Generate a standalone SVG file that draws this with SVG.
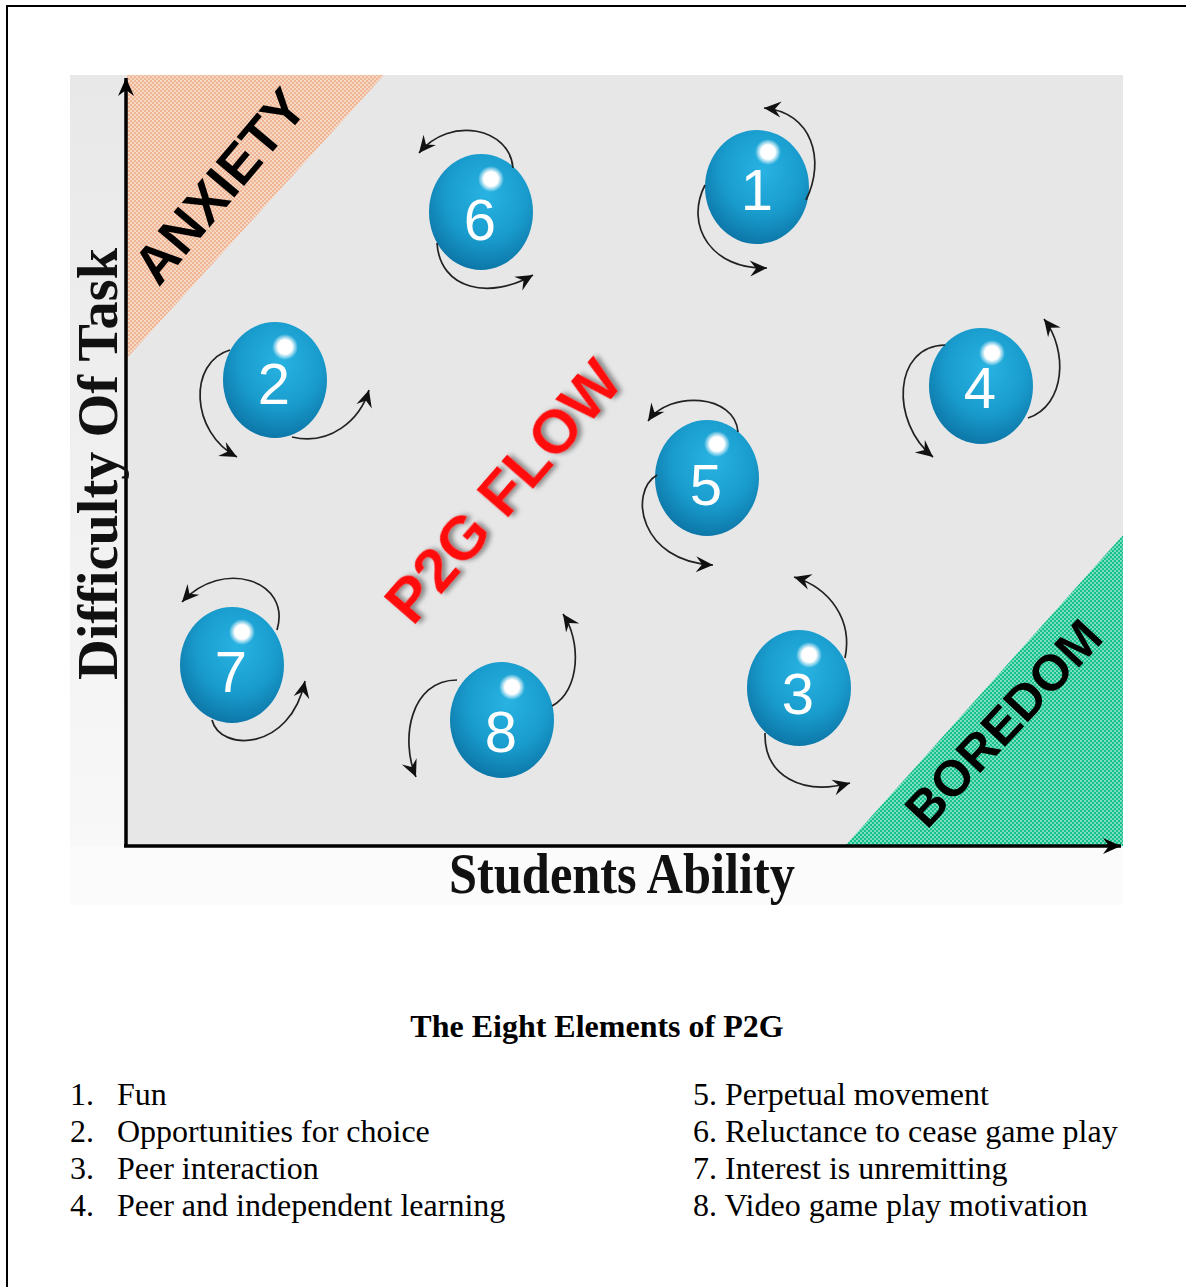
<svg xmlns="http://www.w3.org/2000/svg" width="1186" height="1287" viewBox="0 0 1186 1287">
  <defs>
    <style>
      .zone { font-family: "Liberation Sans", Arial, sans-serif; font-weight: bold; fill: #000; }
      .axis-label { font-family: "Liberation Serif", "Times New Roman", serif; font-weight: bold; font-size: 56px; fill: #111; }
      .num { font-family: "Liberation Sans", Arial, sans-serif; font-size: 58px; fill: #fff; text-anchor: middle; }
      .list { font-family: "Liberation Serif", "Times New Roman", serif; font-size: 32px; fill: #000; }
      .title { font-family: "Liberation Serif", "Times New Roman", serif; font-size: 32px; font-weight: bold; fill: #000; text-anchor: middle; }
      .spin { fill: none; stroke: #222; stroke-width: 1.7; marker-end: url(#barb); }
      .axis { stroke: #000; stroke-width: 3.5; fill: none; }
    </style>
    <pattern id="dotsPeach" width="4" height="4" patternUnits="userSpaceOnUse">
      <rect width="4" height="4" fill="#efb594"/>
      <circle cx="1" cy="1" r="1.1" fill="#f8dccb"/>
      <circle cx="3" cy="3" r="1.1" fill="#f8dccb"/>
    </pattern>
    <pattern id="dotsGreen" width="4" height="4" patternUnits="userSpaceOnUse">
      <rect width="4" height="4" fill="#16c08c"/>
      <circle cx="1" cy="1" r="1.1" fill="#86e3c4"/>
      <circle cx="3" cy="3" r="1.1" fill="#86e3c4"/>
    </pattern>
    <radialGradient id="ballFill" cx="55%" cy="35%" r="70%">
      <stop offset="0" stop-color="#28b3e2"/>
      <stop offset="0.55" stop-color="#199ccd"/>
      <stop offset="1" stop-color="#0a71a2"/>
    </radialGradient>
    <radialGradient id="glint" cx="50%" cy="50%" r="50%">
      <stop offset="0" stop-color="#ffffff"/>
      <stop offset="0.55" stop-color="#ffffff"/>
      <stop offset="1" stop-color="#ffffff" stop-opacity="0"/>
    </radialGradient>
    <linearGradient id="sideFade" x1="0" y1="0" x2="0" y2="1">
      <stop offset="0" stop-color="#e8e8e8"/>
      <stop offset="1" stop-color="#f8f8f8"/>
    </linearGradient>
    <filter id="shadow" x="-10%" y="-10%" width="130%" height="130%">
      <feDropShadow dx="3" dy="3" stdDeviation="2.5" flood-color="#7a7a7a" flood-opacity="0.9"/>
    </filter>
    <marker id="barb" viewBox="-18 -9 20 18" markerWidth="20" markerHeight="18" refX="0" refY="0" orient="auto" markerUnits="userSpaceOnUse">
      <path d="M0,0 L-17,-8 L-11,0 L-17,8 Z" fill="#111"/>
    </marker>
    <marker id="axisHead" viewBox="-20 -10 22 20" markerWidth="22" markerHeight="20" refX="0" refY="0" orient="auto" markerUnits="userSpaceOnUse">
      <path d="M0,0 L-18,-8 L-12,0 L-18,8 Z" fill="#000"/>
    </marker>
  </defs>

  <!-- page frame -->
  <rect x="7" y="6" width="1200" height="1300" fill="#fff" stroke="#000" stroke-width="2"/>

  <!-- chart panel -->
  <g id="panel">
    <rect x="70" y="75" width="1053" height="830" fill="#fbfbfb"/>
    <rect x="70" y="75" width="57" height="771" fill="url(#sideFade)"/>
    <rect x="127" y="75" width="996" height="771" fill="#e7e7e7"/>
    <polygon id="anxiety-zone" points="127,75 384,75 127,358" fill="url(#dotsPeach)"/>
    <polygon id="boredom-zone" points="845,846 1123,846 1123,535" fill="url(#dotsGreen)"/>
  </g>

  <!-- zone labels -->
  <text class="zone" font-size="54" text-anchor="middle" transform="translate(234,198) rotate(-50)">ANXIETY</text>
  <text class="zone" font-size="50" text-anchor="middle" transform="translate(1016,735) rotate(-47)">BOREDOM</text>
  <text class="zone" font-size="62" text-anchor="middle" style="fill:#ff1010" filter="url(#shadow)" transform="translate(519,505) rotate(-49)">P2G FLOW</text>

  <!-- axes -->
  <g id="axes">
    <path class="axis" d="M126,846 L126,78" marker-end="url(#axisHead)"/>
    <path class="axis" d="M124,846 L1121,846" marker-end="url(#axisHead)"/>
    <text class="axis-label" text-anchor="middle" textLength="346" lengthAdjust="spacingAndGlyphs" x="622" y="893">Students Ability</text>
    <text class="axis-label" text-anchor="middle" textLength="432" lengthAdjust="spacingAndGlyphs" transform="translate(117,464) rotate(-90)">Difficulty Of Task</text>
  </g>

  <!-- elements -->
  <g id="ball-1">
    <ellipse cx="757" cy="187" rx="52" ry="57" fill="url(#ballFill)"/>
    <circle cx="768" cy="152" r="13" fill="url(#glint)"/>
    <text class="num" x="757" y="210">1</text>
  </g>
  <g id="ball-2">
    <ellipse cx="275" cy="380" rx="52" ry="58" fill="url(#ballFill)"/>
    <circle cx="285" cy="347" r="13" fill="url(#glint)"/>
    <text class="num" x="274" y="404">2</text>
  </g>
  <g id="ball-3">
    <ellipse cx="799" cy="688" rx="52" ry="58" fill="url(#ballFill)"/>
    <circle cx="809" cy="655" r="13" fill="url(#glint)"/>
    <text class="num" x="798" y="714">3</text>
  </g>
  <g id="ball-4">
    <ellipse cx="981" cy="386" rx="52" ry="58" fill="url(#ballFill)"/>
    <circle cx="992" cy="353" r="13" fill="url(#glint)"/>
    <text class="num" x="980" y="408">4</text>
  </g>
  <g id="ball-5">
    <ellipse cx="707" cy="478" rx="52" ry="58" fill="url(#ballFill)"/>
    <circle cx="717" cy="444" r="13" fill="url(#glint)"/>
    <text class="num" x="706" y="505">5</text>
  </g>
  <g id="ball-6">
    <ellipse cx="481" cy="212" rx="52" ry="58" fill="url(#ballFill)"/>
    <circle cx="491" cy="179" r="13" fill="url(#glint)"/>
    <text class="num" x="480" y="240">6</text>
  </g>
  <g id="ball-7">
    <ellipse cx="232" cy="665" rx="52" ry="58" fill="url(#ballFill)"/>
    <circle cx="242" cy="632" r="13" fill="url(#glint)"/>
    <text class="num" x="231" y="692">7</text>
  </g>
  <g id="ball-8">
    <ellipse cx="502" cy="720" rx="52" ry="58" fill="url(#ballFill)"/>
    <circle cx="512" cy="687" r="13" fill="url(#glint)"/>
    <text class="num" x="501" y="752">8</text>
  </g>

  <!-- rotation arrows around each element -->
  <g id="connectors">
    <path class="spin" d="M806,200 C826,160 812,112 764,108"/>
    <path class="spin" d="M705,185 C684,226 712,270 767,268"/>
    <path class="spin" d="M230,350 C188,362 190,432 237,457"/>
    <path class="spin" d="M292,437 C330,446 360,420 369,390"/>
    <path class="spin" d="M845,658 C853,620 830,588 794,577"/>
    <path class="spin" d="M765,733 C764,776 802,796 850,783"/>
    <path class="spin" d="M945,345 C893,346 890,422 933,457"/>
    <path class="spin" d="M1028,418 C1066,405 1068,350 1044,319"/>
    <path class="spin" d="M738,432 C735,394 670,390 648,421"/>
    <path class="spin" d="M657,475 C628,492 640,562 713,565"/>
    <path class="spin" d="M513,168 C510,128 450,115 419,153"/>
    <path class="spin" d="M437,243 C440,290 490,300 533,275"/>
    <path class="spin" d="M277,630 C292,580 222,558 182,602"/>
    <path class="spin" d="M212,720 C220,752 290,752 305,681"/>
    <path class="spin" d="M457,680 C410,680 400,740 416,777"/>
    <path class="spin" d="M552,706 C581,690 581,640 563,614"/>
  </g>

  <!-- legend -->
  <g id="legend">
    <text class="title" x="597" y="1037">The Eight Elements of P2G</text>
    <text class="list" x="70" y="1105">1.</text>
    <text class="list" x="117" y="1105">Fun</text>
    <text class="list" x="70" y="1142">2.</text>
    <text class="list" x="117" y="1142">Opportunities for choice</text>
    <text class="list" x="70" y="1179">3.</text>
    <text class="list" x="117" y="1179">Peer interaction</text>
    <text class="list" x="70" y="1216">4.</text>
    <text class="list" x="117" y="1216">Peer and independent learning</text>
    <text class="list" x="693" y="1105">5. Perpetual movement</text>
    <text class="list" x="693" y="1142">6. Reluctance to cease game play</text>
    <text class="list" x="693" y="1179">7. Interest is unremitting</text>
    <text class="list" x="693" y="1216">8. Video game play motivation</text>
  </g>
</svg>
